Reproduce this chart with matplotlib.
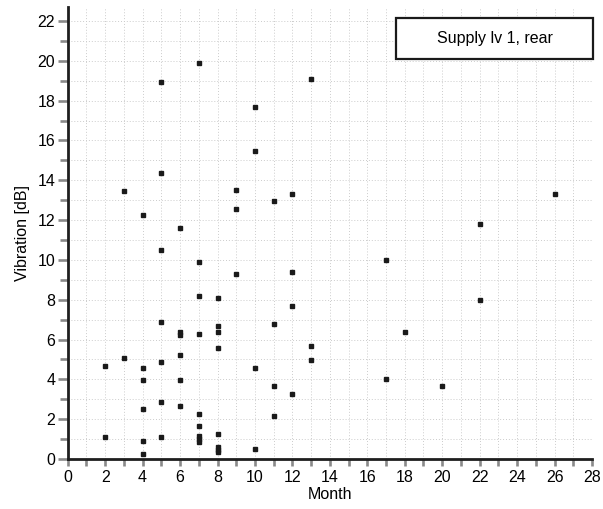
import matplotlib.pyplot as plt
from matplotlib.patches import Rectangle
from matplotlib.ticker import MultipleLocator

plt.rcParams['font.family'] = ['Liberation Sans', 'DejaVu Sans']

# Measurements: month of inspection and vibration level
month = [2, 2,
         3, 3,
         4, 4, 4, 4, 4, 4,
         5, 5, 5, 5, 5, 5, 5,
         6, 6, 6, 6, 6, 6,
         7, 7, 7, 7, 7, 7, 7, 7, 7,
         8, 8, 8, 8, 8, 8, 8, 8,
         9, 9, 9,
         10, 10, 10, 10,
         11, 11, 11, 11,
         12, 12, 12, 12,
         13, 13, 13,
         17, 17,
         18,
         20,
         22, 22,
         26]
vibration = [4.68, 1.1,
             13.48, 5.08,
             12.28, 4.58, 3.98, 2.5, 0.88, 0.27,
             18.92, 14.38, 10.48, 6.88, 4.88, 2.88, 1.1,
             11.58, 6.4, 6.25, 5.2, 3.98, 2.68,
             19.88, 9.88, 8.18, 6.28, 2.28, 1.68, 1.18, 1.0, 0.87,
             8.08, 6.68, 6.38, 5.58, 1.28, 0.6, 0.45, 0.35,
             13.5, 12.58, 9.28,
             17.7, 15.48, 4.58, 0.48,
             12.98, 6.78, 3.68, 2.18,
             13.3, 9.38, 7.68, 3.28,
             19.1, 5.68, 4.98,
             9.98, 4.0,
             6.38,
             3.68,
             11.78, 8.0,
             13.3]
series_name = "Supply lv 1, rear"

FS = 11.5

fig = plt.figure(figsize=(6.03, 5.09), dpi=100)
ax = fig.add_axes([0.1123, 0.0982, 0.8695, 0.888])

ax.plot(month, vibration, linestyle='none', marker='s', markersize=2.4,
        color='#1a1a1a', zorder=3)

ax.set_xlim(0, 28)
ax.set_ylim(0, 22.7)
ax.xaxis.set_major_locator(MultipleLocator(2))
ax.xaxis.set_minor_locator(MultipleLocator(1))
ax.yaxis.set_major_locator(MultipleLocator(2))
ax.yaxis.set_minor_locator(MultipleLocator(1))

# dotted grid at every unit
ax.grid(which='both', linestyle=(0, (1, 2)), color='#cccccc', linewidth=0.7)
ax.set_axisbelow(True)

for side in ('top', 'right'):
    ax.spines[side].set_visible(False)
for side in ('left', 'bottom'):
    ax.spines[side].set_linewidth(2.0)
    ax.spines[side].set_color('#1e1e1e')

ax.tick_params(axis='both', which='both', direction='out', color='#8a8a8a',
               width=1.9, labelsize=FS, labelcolor='black')
ax.tick_params(axis='x', which='major', length=5, pad=3)
ax.tick_params(axis='x', which='minor', length=5)
ax.tick_params(axis='y', which='major', length=7, pad=2)
ax.tick_params(axis='y', which='minor', length=6)

ax.set_xlabel("Month", fontsize=FS, labelpad=1)
ax.set_ylabel("Vibration [dB]", fontsize=FS, labelpad=5)

# series title box in the upper right
ax.add_patch(Rectangle((0.626, 0.885), 0.376, 0.091, transform=ax.transAxes,
                       facecolor='white', edgecolor='#1a1a1a', linewidth=1.6,
                       clip_on=False, zorder=4))
ax.text(0.814, 0.9305, series_name, transform=ax.transAxes, ha='center',
        va='center', fontsize=FS, zorder=5)

fig.savefig("out.png", dpi=100)
